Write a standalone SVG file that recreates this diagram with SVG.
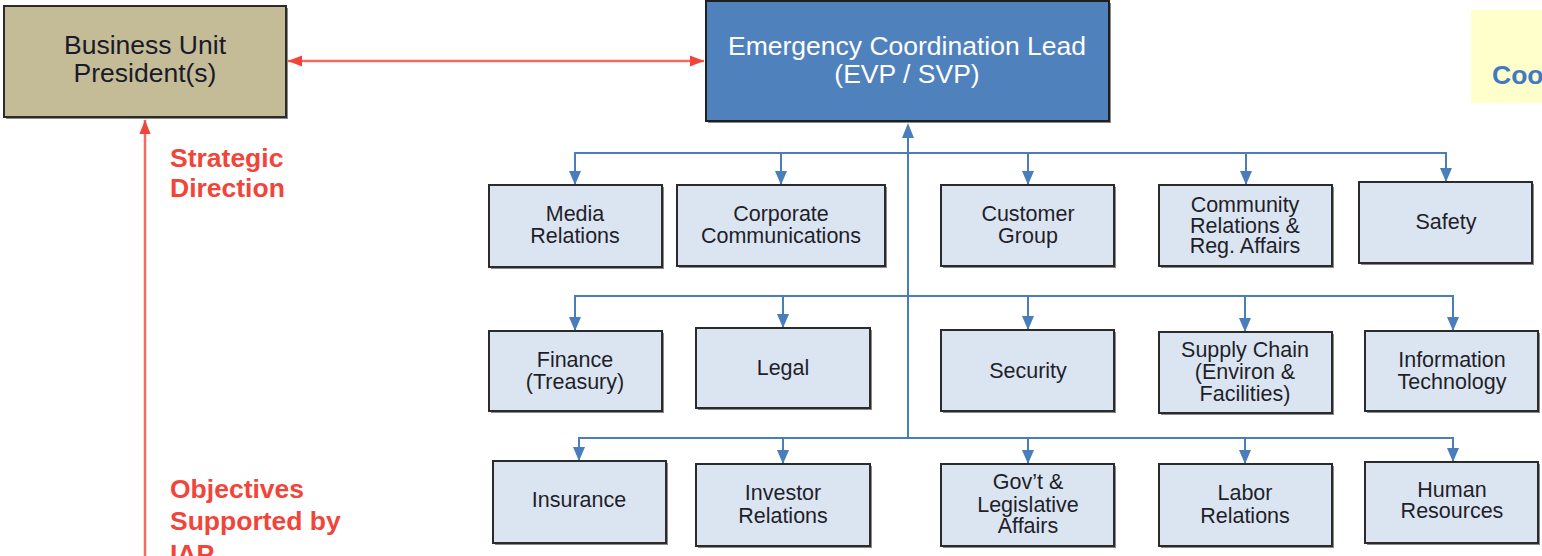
<svg xmlns="http://www.w3.org/2000/svg" width="1542" height="556" viewBox="0 0 1542 556">
<style>
.box{fill:#dbe5f1;stroke:#2b2b2b;stroke-width:2}
.sh{fill:#8a8a8a}
.t{font-family:"Liberation Sans",Arial,sans-serif;font-size:21.5px;fill:#1f1f2a;text-anchor:middle}
.big{font-family:"Liberation Sans",Arial,sans-serif;font-size:26.5px;text-anchor:middle}
.red{font-family:"Liberation Sans",Arial,sans-serif;font-size:26.5px;font-weight:bold;fill:#f2453a}
.bl{fill:none;stroke:#4a7ebb;stroke-width:2}
.rl{fill:none;stroke:#f46a60;stroke-width:2.5}
</style>
<defs>
<marker id="abs" viewBox="0 0 10 10" refX="10" refY="5" markerWidth="14" markerHeight="14" markerUnits="userSpaceOnUse" orient="auto-start-reverse"><path d="M0,1 L10,5 L0,9 z" fill="#f2453a"/></marker>
</defs>

<g id="connectors">
<path class="rl" d="M288,61 L704,61" marker-start="url(#abs)" marker-end="url(#abs)"/>
<path class="rl" d="M145,556 L145,120" marker-end="url(#abs)"/>
<path class="bl" d="M908,438 L908,130"/>
<path class="bl" d="M575,185 V153 H1446 V182"/>
<path class="bl" d="M781,153 V185 M1028,153 V185 M1246,153 V185"/>
<path class="bl" d="M575,331 V296 H1453 V331"/>
<path class="bl" d="M783,296 V328 M1028,296 V330 M1245,296 V332"/>
<path class="bl" d="M579,461 V438 H1453 V462"/>
<path class="bl" d="M783,438 V464 M1028,438 V464 M1245,438 V464"/>
<g id="arrowheads" fill="#4a7ebb">
<path d="M569,171 h12 l-6,14 z M775,171 h12 l-6,14 z M1022,171 h12 l-6,14 z M1240,171 h12 l-6,14 z M1440,168 h12 l-6,14 z"/>
<path d="M569,317 h12 l-6,14 z M777,314 h12 l-6,14 z M1022,316 h12 l-6,14 z M1239,318 h12 l-6,14 z M1447,317 h12 l-6,14 z"/>
<path d="M573,447 h12 l-6,14 z M777,450 h12 l-6,14 z M1022,450 h12 l-6,14 z M1239,450 h12 l-6,14 z M1447,448 h12 l-6,14 z"/>
<path d="M902,138 h12 l-6,-15 z"/>
</g>
</g>

<g id="bu">
<rect x="6" y="8" width="282" height="111" class="sh"/>
<rect x="4" y="6" width="282" height="111" fill="#c4bc96" stroke="#2b2b2b" stroke-width="2"/>
<text class="big" fill="#1a1a2a" x="145" y="54">Business Unit</text>
<text class="big" fill="#1a1a2a" x="145" y="82">President(s)</text>
</g>

<g id="ecl">
<rect x="708" y="3" width="403" height="120" class="sh"/>
<rect x="706" y="1" width="403" height="120" fill="#4f81bd" stroke="#1f1f1f" stroke-width="2"/>
<text class="big" fill="#ffffff" x="907" y="55">Emergency Coordination Lead</text>
<text class="big" fill="#ffffff" x="907" y="83">(EVP / SVP)</text>
</g>

<g id="coo">
<rect x="1471" y="10" width="80" height="93" fill="#ffffcc"/>
<text x="1492" y="84" style="font-family:'Liberation Sans',Arial,sans-serif;font-size:26.5px;font-weight:bold;fill:#3f7bc4">Coo</text>
</g>

<g id="labels">
<text class="red" x="170" y="167">Strategic</text>
<text class="red" x="170" y="197">Direction</text>
<text class="red" x="170" y="498">Objectives</text>
<text class="red" x="170" y="530">Supported by</text>
<text class="red" x="170" y="563">IAP</text>
</g>

<g id="media"><rect x="491" y="187" width="173" height="82" class="sh"/><rect x="489" y="185" width="173" height="82" class="box"/><text class="t" x="575" y="221">Media</text><text class="t" x="575" y="243">Relations</text></g>
<g id="corpcomm"><rect x="679" y="187" width="208" height="81" class="sh"/><rect x="677" y="185" width="208" height="81" class="box"/><text class="t" x="781" y="221">Corporate</text><text class="t" x="781" y="243">Communications</text></g>
<g id="customer"><rect x="943" y="187" width="173" height="81" class="sh"/><rect x="941" y="185" width="173" height="81" class="box"/><text class="t" x="1028" y="221">Customer</text><text class="t" x="1028" y="243">Group</text></g>
<g id="community"><rect x="1161" y="187" width="173" height="81" class="sh"/><rect x="1159" y="185" width="173" height="81" class="box"/><text class="t" x="1245" y="212">Community</text><text class="t" x="1245" y="233">Relations &amp;</text><text class="t" x="1245" y="253">Reg. Affairs</text></g>
<g id="safety"><rect x="1361" y="184" width="173" height="81" class="sh"/><rect x="1359" y="182" width="173" height="81" class="box"/><text class="t" x="1446" y="229">Safety</text></g>

<g id="finance"><rect x="491" y="333" width="173" height="80" class="sh"/><rect x="489" y="331" width="173" height="80" class="box"/><text class="t" x="575" y="367">Finance</text><text class="t" x="575" y="389">(Treasury)</text></g>
<g id="legal"><rect x="698" y="330" width="174" height="80" class="sh"/><rect x="696" y="328" width="174" height="80" class="box"/><text class="t" x="783" y="375">Legal</text></g>
<g id="security"><rect x="943" y="332" width="173" height="81" class="sh"/><rect x="941" y="330" width="173" height="81" class="box"/><text class="t" x="1028" y="378">Security</text></g>
<g id="supply"><rect x="1161" y="334" width="173" height="81" class="sh"/><rect x="1159" y="332" width="173" height="81" class="box"/><text class="t" x="1245" y="357">Supply Chain</text><text class="t" x="1245" y="379">(Environ &amp;</text><text class="t" x="1245" y="401">Facilities)</text></g>
<g id="it"><rect x="1367" y="333" width="173" height="80" class="sh"/><rect x="1365" y="331" width="173" height="80" class="box"/><text class="t" x="1452" y="367">Information</text><text class="t" x="1452" y="389">Technology</text></g>

<g id="insurance"><rect x="495" y="463" width="173" height="82" class="sh"/><rect x="493" y="461" width="173" height="82" class="box"/><text class="t" x="579" y="507">Insurance</text></g>
<g id="investor"><rect x="698" y="466" width="174" height="82" class="sh"/><rect x="696" y="464" width="174" height="82" class="box"/><text class="t" x="783" y="500">Investor</text><text class="t" x="783" y="523">Relations</text></g>
<g id="govt"><rect x="943" y="466" width="173" height="82" class="sh"/><rect x="941" y="464" width="173" height="82" class="box"/><text class="t" x="1028" y="489">Gov’t &amp;</text><text class="t" x="1028" y="512">Legislative</text><text class="t" x="1028" y="533">Affairs</text></g>
<g id="labor"><rect x="1161" y="466" width="173" height="82" class="sh"/><rect x="1159" y="464" width="173" height="82" class="box"/><text class="t" x="1245" y="500">Labor</text><text class="t" x="1245" y="523">Relations</text></g>
<g id="hr"><rect x="1367" y="464" width="173" height="81" class="sh"/><rect x="1365" y="462" width="173" height="81" class="box"/><text class="t" x="1452" y="497">Human</text><text class="t" x="1452" y="518">Resources</text></g>
</svg>
